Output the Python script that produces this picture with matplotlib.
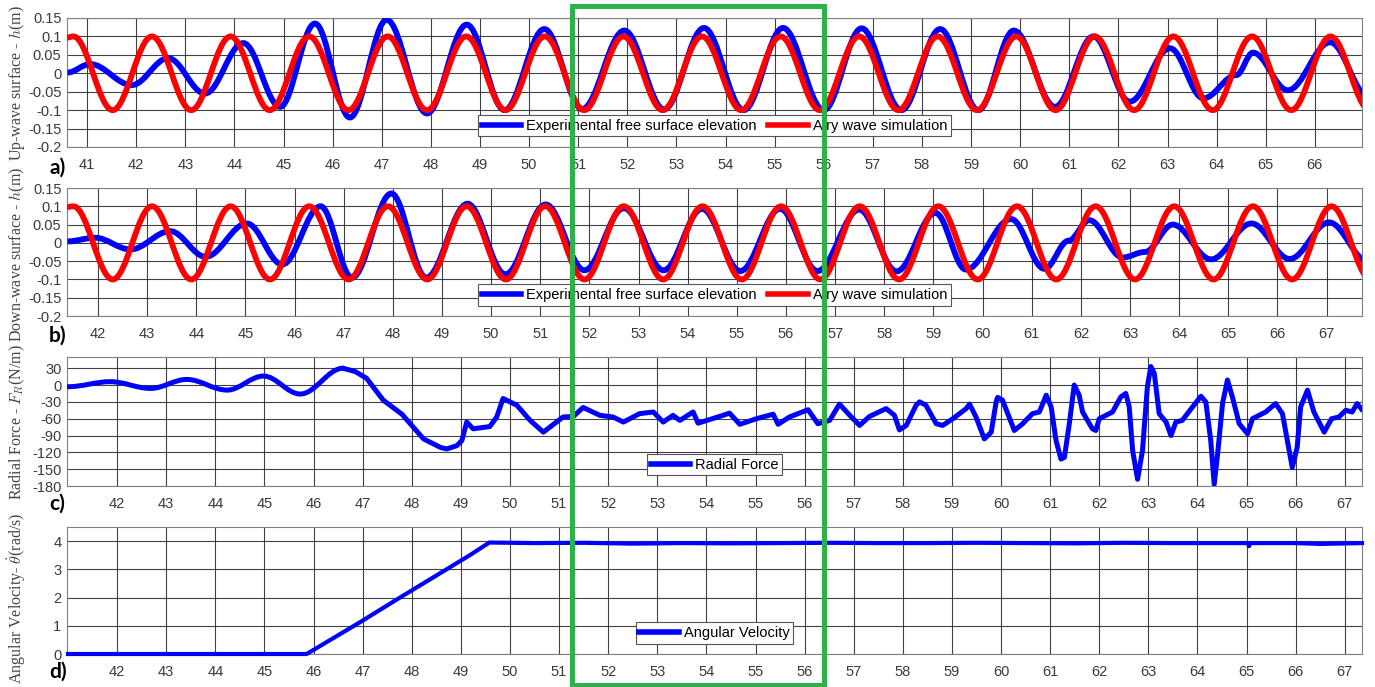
import matplotlib
matplotlib.use('Agg')
import matplotlib.pyplot as plt
from matplotlib.path import Path
from matplotlib.patches import PathPatch, Rectangle
from matplotlib.lines import Line2D

plt.rcParams['font.family'] = ['Liberation Sans', 'DejaVu Sans']
plt.rcParams['mathtext.fontset'] = 'cm'
plt.rcParams['axes.unicode_minus'] = False

# ---- data (time in s) ----
# a) up-wave surface: experimental (peaks/troughs) and Airy simulation
ta_exp = [40.60, 41.06, 41.91, 42.65, 43.40, 44.18, 44.93, 45.64, 46.35, 47.10,
          47.92, 48.73, 49.50, 50.31, 51.08, 51.94, 52.75, 53.56, 54.37, 55.17,
          56.00, 56.77, 57.58, 58.37, 59.15, 59.87, 60.71, 61.49, 62.23, 63.05,
          63.73, 64.40, 64.74, 65.45, 66.31, 67.10]
va_exp = [0.002, 0.025, -0.032, 0.041, -0.055, 0.082, -0.091, 0.135, -0.120, 0.145,
          -0.109, 0.132, -0.100, 0.120, -0.097, 0.116, -0.098, 0.123, -0.100, 0.123,
          -0.100, 0.122, -0.100, 0.120, -0.100, 0.116, -0.091, 0.100, -0.077, 0.068,
          -0.068, -0.005, 0.056, -0.046, 0.084, -0.065]
ta_sim = [40.59, 40.72, 41.52, 42.32, 43.12, 43.92, 44.72, 45.52, 46.32, 47.12,
          47.92, 48.72, 49.52, 50.32, 51.12, 51.92, 52.72, 53.52, 54.32, 55.12,
          55.92, 56.72, 57.52, 58.32, 59.12, 59.92, 60.72, 61.52, 62.32, 63.12,
          63.92, 64.72, 65.52, 66.32, 67.12]
va_sim = [0.097, 0.1, -0.1, 0.1, -0.1, 0.1, -0.1, 0.1, -0.1, 0.1,
          -0.1, 0.1, -0.1, 0.1, -0.1, 0.1, -0.1, 0.1, -0.1, 0.1,
          -0.1, 0.1, -0.1, 0.1, -0.1, 0.1, -0.1, 0.1, -0.1, 0.1,
          -0.1, 0.1, -0.1, 0.1, -0.1]

# b) down-wave surface
tb_exp = [41.38, 41.94, 42.66, 43.47, 44.19, 45.03, 45.75, 46.53, 47.17, 47.97,
          48.68, 49.52, 50.29, 51.11, 51.90, 52.70, 53.51, 54.29, 55.07, 55.88,
          56.64, 57.49, 58.25, 59.04, 59.66, 60.58, 61.26, 61.75, 62.17, 62.85,
          63.30, 63.87, 64.65, 65.47, 66.25, 67.05, 67.85]
vb_exp = [0.004, 0.014, -0.018, 0.032, -0.038, 0.053, -0.059, 0.100, -0.095, 0.135,
          -0.095, 0.107, -0.086, 0.105, -0.075, 0.095, -0.075, 0.093, -0.077, 0.093,
          -0.077, 0.091, -0.078, 0.082, -0.073, 0.065, -0.071, 0.006, 0.062, -0.040,
          -0.025, 0.050, -0.045, 0.053, -0.044, 0.056, -0.052]
tb_sim = [41.37, 41.50, 42.30, 43.10, 43.90, 44.70, 45.50, 46.30, 47.10, 47.90,
          48.70, 49.50, 50.30, 51.10, 51.90, 52.70, 53.50, 54.30, 55.10, 55.90,
          56.70, 57.50, 58.30, 59.10, 59.90, 60.70, 61.50, 62.30, 63.10, 63.90,
          64.70, 65.50, 66.30, 67.10, 67.90]
vb_sim = [0.098, 0.1, -0.1, 0.1, -0.1, 0.1, -0.1, 0.1, -0.1, 0.1,
          -0.1, 0.1, -0.1, 0.1, -0.1, 0.1, -0.1, 0.1, -0.1, 0.1,
          -0.1, 0.1, -0.1, 0.1, -0.1, 0.1, -0.1, 0.1, -0.1, 0.1,
          -0.1, 0.1, -0.1, 0.1, -0.1]

# c) radial force (N/m): smooth start (extrema), then the irregular part
tc_start = [41.00, 41.86, 42.68, 43.42, 44.24, 44.98, 45.73, 46.60]
vc_start = [-3, 6, -6, 10, -9, 16, -16, 30]
tc = [46.60, 46.85, 47.08, 47.42, 47.80, 48.03,
      48.24, 48.58, 48.71, 48.92, 49.02, 49.12, 49.25, 49.59, 49.73, 49.86,
      50.14, 50.41, 50.68, 51.08, 51.29, 51.49, 51.83, 52.10, 52.31, 52.64,
      52.92, 53.12, 53.32, 53.46, 53.73, 53.83, 54.34, 54.47, 54.68, 55.02,
      55.36, 55.46, 55.69, 56.07, 56.27, 56.51, 56.71, 56.92, 57.12, 57.32,
      57.66, 57.83, 57.93, 58.07, 58.27, 58.34, 58.47, 58.68, 58.81, 59.02,
      59.29, 59.36, 59.49, 59.66, 59.80, 59.90, 59.93, 60.03, 60.27, 60.44,
      60.64, 60.78, 60.92, 61.02, 61.12, 61.22, 61.29, 61.39, 61.49, 61.59,
      61.66, 61.86, 61.93, 62.00, 62.27, 62.44, 62.54, 62.61, 62.68, 62.78,
      62.88, 62.98, 63.05, 63.12, 63.22, 63.36, 63.46, 63.56, 63.69, 63.90,
      64.07, 64.17, 64.27, 64.34, 64.41, 64.51, 64.61, 64.71, 64.85, 65.02,
      65.12, 65.39, 65.59, 65.73, 65.83, 65.93, 66.03, 66.10, 66.24, 66.37,
      66.58, 66.73, 66.88, 67.02, 67.15, 67.25, 67.36]
vc = [30, 24, 12, -27, -52, -75,
      -96, -111, -114, -108, -99, -66, -78, -74, -57, -24,
      -36, -63, -84, -57, -56, -40, -54, -57, -66, -51,
      -48, -66, -54, -63, -48, -68, -54, -50, -70, -60,
      -52, -70, -57, -44, -69, -63, -34, -54, -72, -56,
      -42, -54, -80, -72, -36, -30, -36, -69, -72, -60,
      -42, -34, -57, -96, -84, -30, -22, -27, -81, -69,
      -51, -48, -18, -39, -99, -132, -129, -69, 0, -18,
      -48, -78, -81, -60, -48, -21, -15, -39, -117, -168,
      -117, -3, 33, 21, -51, -66, -90, -66, -63, -39,
      -20, -30, -99, -177, -123, -33, 9, -21, -69, -87,
      -60, -48, -33, -51, -99, -147, -111, -39, -9, -48,
      -84, -60, -57, -45, -48, -33, -45]

# d) angular velocity (rad/s)
td = [41.00, 45.86, 46.40, 46.95, 47.76, 48.50, 49.20, 49.58, 50.50, 51.50,
      52.50, 53.50, 54.50, 55.50, 56.50, 57.50, 58.50, 59.50, 60.50, 61.50,
      62.50, 63.50, 64.50, 65.02, 65.05, 65.08, 66.00, 66.50, 67.35]
vd = [0.00, 0.00, 0.56, 1.13, 2.00, 2.78, 3.52, 3.95, 3.93, 3.94,
      3.91, 3.93, 3.92, 3.93, 3.94, 3.93, 3.93, 3.94, 3.93, 3.92,
      3.94, 3.93, 3.93, 3.93, 3.82, 3.93, 3.93, 3.90, 3.93]

ticks_a = list(range(41, 67))
ticks_bcd = list(range(42, 68))
yt_wave = [-0.2, -0.15, -0.1, -0.05, 0, 0.05, 0.1, 0.15]
yt_force = [-180, -150, -120, -90, -60, -30, 0, 30]
yt_vel = [0, 1, 2, 3, 4]

lab_exp = 'Experimental free surface elevation'
lab_sim = 'Airy wave simulation'


def wave_path(t, v):
    # smooth curve through the read extrema (horizontal tangent at each one)
    verts = [(t[0], v[0])]
    codes = [Path.MOVETO]
    for i in range(1, len(t)):
        d = 0.36 * (t[i] - t[i - 1])
        verts += [(t[i - 1] + d, v[i - 1]), (t[i] - d, v[i]), (t[i], v[i])]
        codes += [Path.CURVE4] * 3
    return Path(verts, codes)


def style(ax, xlim, ylim, xticks, yticks):
    ax.set_xlim(xlim)
    ax.set_ylim(ylim)
    ax.set_xticks(xticks)
    ax.set_yticks(yticks)
    ax.set_yticklabels(['{:g}'.format(y) for y in yticks])
    ax.grid(True, color='k', lw=0.8, alpha=0.75)
    ax.set_axisbelow(True)
    ax.tick_params(length=0, labelsize=10.5, labelcolor='#3a3a3a')
    ax.tick_params(axis='x', pad=8)
    ax.tick_params(axis='y', pad=4)
    for s in ax.spines.values():
        s.set_color('#808080')
        s.set_linewidth(0.8)


def legend(ax, handles, labels, ncol):
    leg = ax.legend(handles, labels, loc='center', bbox_to_anchor=(0.5, 0.165),
                    ncol=ncol, fontsize=10.5, fancybox=False, framealpha=1,
                    edgecolor='#555555', borderpad=0.25, handlelength=2.7,
                    handletextpad=0.35, columnspacing=0.8, borderaxespad=0)
    leg.get_frame().set_linewidth(0.8)
    leg.set_zorder(5)


W, H = 1375, 687
fig = plt.figure(figsize=(W / 100, H / 100), dpi=100)
L, R = 67 / W, 1295 / W
ax_a = fig.add_axes([L, 1 - 147 / H, R, 129 / H])
ax_b = fig.add_axes([L, 1 - 316 / H, R, 128 / H])
ax_c = fig.add_axes([L, 1 - 486 / H, R, 129 / H])
ax_d = fig.add_axes([L, 1 - 654 / H, R, 127 / H])

blue, red = '#0000ff', '#ff0000'
lw = 4.2

# a)
ax_a.add_patch(PathPatch(wave_path(ta_exp, va_exp), fill=False, edgecolor=blue, lw=lw, zorder=3))
ax_a.add_patch(PathPatch(wave_path(ta_sim, va_sim), fill=False, edgecolor=red, lw=lw, zorder=4))
style(ax_a, (40.59, 66.96), (-0.2, 0.15), ticks_a, yt_wave)
legend(ax_a, [Line2D([], [], color=blue, lw=4), Line2D([], [], color=red, lw=4)],
       [lab_exp, lab_sim], 2)

# b)
ax_b.add_patch(PathPatch(wave_path(tb_exp, vb_exp), fill=False, edgecolor=blue, lw=lw, zorder=3))
ax_b.add_patch(PathPatch(wave_path(tb_sim, vb_sim), fill=False, edgecolor=red, lw=lw, zorder=4))
style(ax_b, (41.37, 67.72), (-0.2, 0.15), ticks_bcd, yt_wave)
legend(ax_b, [Line2D([], [], color=blue, lw=4), Line2D([], [], color=red, lw=4)],
       [lab_exp, lab_sim], 2)

# c)
ax_c.add_patch(PathPatch(wave_path(tc_start, vc_start), fill=False, edgecolor=blue,
                         lw=3.6, capstyle='round', zorder=3))
ax_c.plot(tc, vc, color=blue, lw=3.6, solid_joinstyle='round',
          solid_capstyle='round', zorder=3)
style(ax_c, (40.98, 67.35), (-180, 50), ticks_bcd, yt_force)
legend(ax_c, [Line2D([], [], color=blue, lw=4)], ['Radial Force'], 1)

# d)
ax_d.plot(td, vd, color=blue, lw=3.0, clip_on=False, zorder=3)
style(ax_d, (40.98, 67.35), (0, 4.5), ticks_bcd, yt_vel)
legend(ax_d, [Line2D([], [], color=blue, lw=4)], ['Angular Velocity'], 1)

# y labels (LaTeX-like serif) and panel letters
ylab = dict(rotation=90, ha='center', va='center', fontsize=11.5,
            color='#444444', family=['Liberation Serif', 'DejaVu Serif'])
fig.text(17 / W, 1 - 83 / H, r'Up-wave surface - $h$(m)', **ylab)
fig.text(17 / W, 1 - 254 / H, r'Down-wave surface - $h$(m)', **ylab)
fig.text(17 / W, 1 - 422 / H, r'Radial Force - $F_R$(N/m)', **ylab)
fig.text(17 / W, 1 - 598 / H, r'Angular Velocity- $\dot{\theta}$(rad/s)', **ylab)

let = dict(fontsize=15, fontweight='bold', ha='left', va='center',
           family=['Lato', 'DejaVu Sans'])
fig.text(49 / W, 1 - 168 / H, 'a)', **let)
fig.text(49 / W, 1 - 336 / H, 'b)', **let)
fig.text(49 / W, 1 - 504 / H, 'c)', **let)
fig.text(49 / W, 1 - 672 / H, 'd)', **let)

# green highlight box
fig.add_artist(Rectangle((571.5 / W, 1 - 684.5 / H), 252 / W, 679 / H,
                         transform=fig.transFigure, fill=False,
                         edgecolor='#2db24b', lw=3.6, zorder=10))

fig.savefig('out.png', dpi=100)
